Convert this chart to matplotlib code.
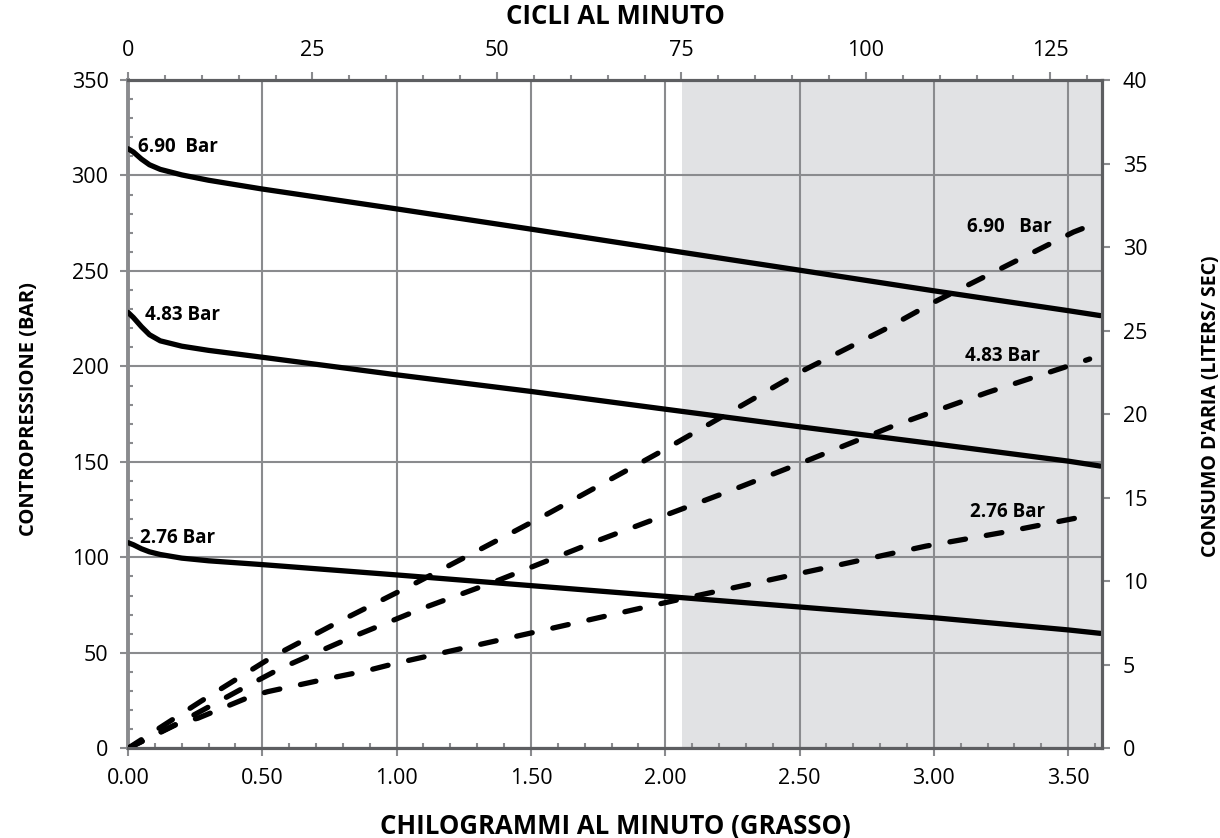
import numpy as np
import matplotlib
matplotlib.use('Agg')
import matplotlib.pyplot as plt
from matplotlib.ticker import MultipleLocator, FormatStrFormatter

plt.rcParams['font.family'] = ['Open Sans', 'DejaVu Sans']

# contropressione (asse sinistro, linee continue)
x_p690 = [0, 0.02, 0.05, 0.08, 0.12, 0.2, 0.3, 0.5, 1.0, 1.5, 2.0, 2.5, 3.0, 3.5, 3.62]
y_p690 = [314, 312.3, 308.6, 305.6, 303.2, 300.3, 297.5, 292.9, 282.5, 271.9, 261.1, 250.4, 239.6, 229.2, 226.6]
x_p483 = [0, 0.02, 0.05, 0.08, 0.12, 0.2, 0.3, 0.5, 1.0, 1.5, 2.0, 2.5, 3.0, 3.5, 3.62]
y_p483 = [228.3, 225.6, 220.8, 216.6, 213.4, 210.6, 208.4, 204.8, 195.6, 186.9, 177.6, 168.4, 159.5, 150.4, 147.8]
x_p276 = [0, 0.02, 0.05, 0.08, 0.12, 0.2, 0.3, 0.5, 1.0, 1.5, 2.0, 2.5, 3.0, 3.5, 3.62]
y_p276 = [107.7, 106.6, 104.5, 102.9, 101.5, 99.6, 98.2, 96.2, 90.8, 85.2, 79.6, 74.0, 68.4, 62.0, 60.2]

# consumo d'aria (asse destro, linee tratteggiate)
x_a690 = [0, 0.27, 0.54, 0.8, 1.06, 1.31, 1.57, 2.0, 2.5, 2.82, 3.0, 3.52, 3.6]
y_a690 = [0, 2.8, 5.5, 7.7, 9.8, 11.9, 14.1, 17.9, 22.5, 25.1, 26.7, 30.9, 31.4]
x_a483 = [0, 0.2, 0.44, 0.57, 0.84, 1.1, 1.37, 1.76, 2.24, 2.51, 2.85, 3.2, 3.58]
y_a483 = [0, 1.6, 3.7, 4.8, 6.7, 8.4, 10.0, 12.5, 15.4, 17.1, 19.3, 21.3, 23.3]
x_a276 = [0, 0.195, 0.26, 0.455, 0.52, 0.75, 0.89, 1.0, 1.5, 2.05, 2.97, 3.25, 3.6]
y_a276 = [0, 1.55, 1.8, 3.09, 3.39, 4.19, 4.65, 5.1, 6.9, 8.9, 12.1, 12.9, 14.0]

labels = ['6.90  Bar', '4.83 Bar', '2.76 Bar']
labels_air = ['6.90   Bar', '4.83 Bar', '2.76 Bar']

XMAX = 3.626
CYCLES_MAX = 132
SHADE_FROM = 2.063

GRID = '#8a8b8e'
SPINE = '#5d5e61'
SHADE = '#e1e2e4'

fig = plt.figure(figsize=(12.2, 8.38), dpi=100)
ax = fig.add_axes([128 / 1220, 89.7 / 838, 974 / 1220, 668.3 / 838])
ax.set_xlim(0, XMAX)
ax.set_ylim(0, 350)
ax.axvspan(SHADE_FROM, XMAX, color=SHADE, lw=0, zorder=0)
ax.set_axisbelow(True)
ax.grid(True, which='major', color=GRID, lw=1.5)

ax.set_xticks(np.arange(0, 3.51, 0.5))
ax.xaxis.set_major_formatter(FormatStrFormatter('%.2f'))
ax.xaxis.set_minor_locator(MultipleLocator(0.1))
ax.yaxis.set_major_locator(MultipleLocator(50))
ax.yaxis.set_minor_locator(MultipleLocator(10))
ax.tick_params(which='major', direction='out', length=6, width=1.5, color=GRID,
               labelsize=15.5, pad=8)
ax.tick_params(which='minor', direction='in', length=3.8, width=1.5, color=GRID)

for s in ax.spines.values():
    s.set_color(SPINE)
    s.set_linewidth(2.2)
ax.spines['left'].set_color(GRID)
ax.spines['left'].set_linewidth(2.8)

for xs, ys in [(x_p690, y_p690), (x_p483, y_p483), (x_p276, y_p276)]:
    ax.plot(xs, ys, color='black', lw=3.8, solid_capstyle='round',
            solid_joinstyle='round', zorder=3)

ax.text(0.038, 315, labels[0], fontsize=13.5, fontweight='bold', va='center', ha='left')
ax.text(0.064, 227, labels[1], fontsize=13.5, fontweight='bold', va='center', ha='left')
ax.text(0.046, 110, labels[2], fontsize=13.5, fontweight='bold', va='center', ha='left')

# asse destro
ax2 = ax.twinx()
ax2.set_ylim(0, 40)
ax2.yaxis.set_major_locator(MultipleLocator(5))
ax2.tick_params(direction='out', length=6, width=1.5, color=GRID, labelsize=15.5, pad=9)
for s in ax2.spines.values():
    s.set_color(SPINE)
    s.set_linewidth(2.2)
ax2.spines['left'].set_visible(False)

for xs, ys in [(x_a690, y_a690), (x_a483, y_a483), (x_a276, y_a276)]:
    ax2.plot(xs, ys, color='black', lw=3.8, dashes=(3, 4.0), dash_capstyle='round', zorder=3)

ax2.text(3.44, 31.2, labels_air[0], fontsize=13.5, fontweight='bold', va='center', ha='right')
ax2.text(3.397, 23.5, labels_air[1], fontsize=13.5, fontweight='bold', va='center', ha='right')
ax2.text(3.415, 14.16, labels_air[2], fontsize=13.5, fontweight='bold', va='center', ha='right')

# asse superiore (cicli al minuto)
ax3 = ax.twiny()
ax3.set_xlim(0, CYCLES_MAX)
ax3.xaxis.set_major_locator(MultipleLocator(25))
ax3.xaxis.set_minor_locator(MultipleLocator(5))
ax3.tick_params(which='major', direction='out', length=6, width=1.5, color=GRID,
                labelsize=15.5, pad=8)
ax3.tick_params(which='minor', direction='out', length=3.8, width=1.5, color=GRID)
for s in ax3.spines.values():
    s.set_color(SPINE)
    s.set_linewidth(2.2)
ax3.spines['left'].set_visible(False)

fig.text(615 / 1220, 1 - 826 / 838, 'CHILOGRAMMI AL MINUTO (GRASSO)', fontsize=18.5,
         fontweight='bold', ha='center', va='center')
fig.text(615 / 1220, 1 - 17 / 838, 'CICLI AL MINUTO', fontsize=18.5,
         fontweight='bold', ha='center', va='center')
fig.text(29 / 1220, 1 - 409 / 838, 'CONTROPRESSIONE (BAR)', fontsize=14.5,
         fontweight='bold', ha='center', va='center', rotation=90)
fig.text(1211 / 1220, 1 - 406 / 838, "CONSUMO D'ARIA (LITERS/ SEC)", fontsize=14,
         fontweight='bold', ha='center', va='center', rotation=90)

fig.savefig('out.png', dpi=100)
